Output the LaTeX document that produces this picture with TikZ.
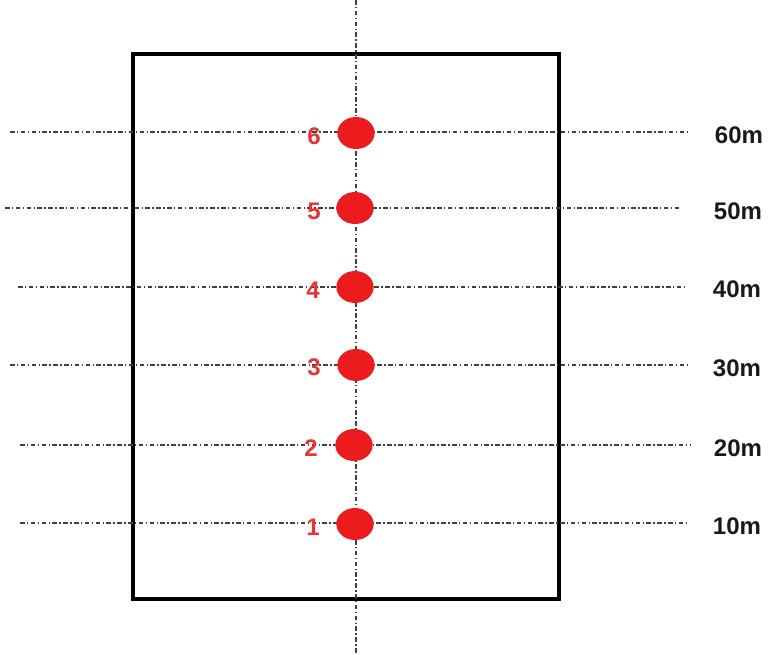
\documentclass[tikz,border=0pt]{standalone}
\usepackage{fontspec}
\setmainfont{Liberation Sans}
\usetikzlibrary{shapes.geometric}

\definecolor{dotred}{RGB}{236,28,30}
\definecolor{numred}{RGB}{228,52,52}

\tikzset{
  axis/.style={line width=0.9pt, dash pattern=on 3.5pt off 1.8pt on 1pt off 1.8pt, black!75},
  spot/.style={ellipse, fill=dotred, inner sep=0pt, minimum width=28pt, minimum height=24pt},
  num/.style={text=numred, font=\fontsize{18}{20}\selectfont\bfseries},
  dist/.style={text=black!90, font=\fontsize{18}{20}\selectfont\bfseries}
}

\begin{document}
\begin{tikzpicture}[x=0.75pt, y=-0.75pt]
    \useasboundingbox (0,0) rectangle (768,654);
    % field outline
    \draw[line width=3pt] (133,54) rectangle (559,599);
    % centre line
    \coordinate (top) at (356,0);
    \coordinate (bot) at (356,654);
    \draw[axis] (top) -- (bot);
    % line ends
    \coordinate (l6) at (10,132);
    \coordinate (r6) at (687,132);
    \coordinate (l5) at (5,208);
    \coordinate (r5) at (681,208);
    \coordinate (l4) at (18,287);
    \coordinate (r4) at (684,287);
    \coordinate (l3) at (10,365);
    \coordinate (r3) at (688,365);
    \coordinate (l2) at (20,445);
    \coordinate (r2) at (690,445);
    \coordinate (l1) at (20,523);
    \coordinate (r1) at (688,523);
    \draw[axis] (l6) -- (r6);
    \draw[axis] (l5) -- (r5);
    \draw[axis] (l4) -- (r4);
    \draw[axis] (l3) -- (r3);
    \draw[axis] (l2) -- (r2);
    \draw[axis] (l1) -- (r1);
    % positions
    \node[spot] (p6) at (356,133) {};
    \node[spot] (p5) at (355,208) {};
    \node[spot] (p4) at (355,287) {};
    \node[spot] (p3) at (356,365) {};
    \node[spot] (p2) at (354,445) {};
    \node[spot] (p1) at (355,524) {};
    \node[num] (n6) at (314,136) {6};
    \node[num] (n5) at (314,211) {5};
    \node[num] (n4) at (313,290) {4};
    \node[num] (n3) at (314,367) {3};
    \node[num] (n2) at (311,448) {2};
    \node[num] (n1) at (313,527) {1};
    % distances
    \node[dist] (m6) at (739,135) {60m};
    \node[dist] (m5) at (738,211) {50m};
    \node[dist] (m4) at (737,289) {40m};
    \node[dist] (m3) at (737,368) {30m};
    \node[dist] (m2) at (738,448) {20m};
    \node[dist] (m1) at (737,526) {10m};
\end{tikzpicture}
\end{document}
